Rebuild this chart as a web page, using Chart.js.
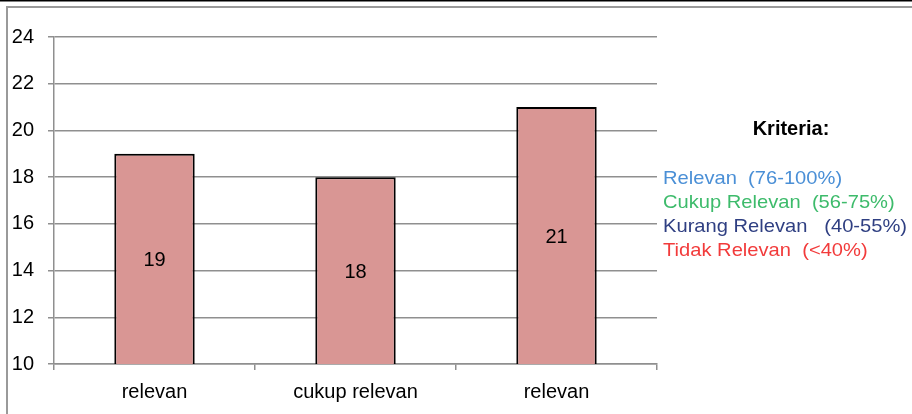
<!DOCTYPE html>
<html>
<head>
<meta charset="utf-8">
<script src="https://cdn.jsdelivr.net/npm/chart.js@4"></script>
<style>
  html, body { margin: 0; padding: 0; background: #fff; }
  #grafik { display: block; }
</style>
</head>
<body>
<canvas id="grafik" width="912" height="414"></canvas>
<script>
// Data
const kategori = ['relevan', 'cukup relevan', 'relevan'];
const nilai = [19, 18, 21];
const sumbuY = { min: 10, max: 24, langkah: 2 };

const judulKriteria = 'Kriteria:';
const kriteria = [
    { teks: 'Relevan  (76-100%)', warna: '#4a8fd6' },
    { teks: 'Cukup Relevan  (56-75%)', warna: '#3dbb6b' },
    { teks: 'Kurang Relevan   (40-55%)', warna: '#2f3f82' },
    { teks: 'Tidak Relevan  (<40%)', warna: '#f23b3b' }
];

const fontUtama = '"Liberation Sans", Arial, sans-serif';
const abu = '#8f8f8f';

// Bingkai luar
const bingkai = {
    id: 'bingkai',
    beforeDraw(chart) {
        const ctx = chart.ctx;
        ctx.save();
        ctx.fillStyle = '#000';
        ctx.fillRect(0, 0, chart.width, 1.5);
        ctx.strokeStyle = '#9a9a9a';
        ctx.lineWidth = 2;
        ctx.beginPath();
        ctx.moveTo(7, chart.height);
        ctx.lineTo(7, 7);
        ctx.lineTo(chart.width, 7);
        ctx.stroke();
        ctx.restore();
    }
};

// Angka di tengah batang (antara dasar sumbu dan puncak batang)
const labelNilai = {
    id: 'labelNilai',
    afterDatasetsDraw(chart) {
        const ctx = chart.ctx;
        const meta = chart.getDatasetMeta(0);
        const dasar = chart.scales.y.getPixelForValue(sumbuY.min);
        ctx.save();
        ctx.font = '20px ' + fontUtama;
        ctx.fillStyle = '#000';
        ctx.textAlign = 'center';
        ctx.textBaseline = 'middle';
        meta.data.forEach(function(bar, i) {
            ctx.fillText(String(nilai[i]), bar.x, (bar.y + dasar) / 2 + 2);
        });
        ctx.restore();
    }
};

// Keterangan kriteria di sebelah kanan
const keterangan = {
    id: 'keterangan',
    afterDraw(chart) {
        const ctx = chart.ctx;
        ctx.save();
        ctx.textBaseline = 'alphabetic';
        ctx.font = 'bold 20px ' + fontUtama;
        ctx.fillStyle = '#000';
        ctx.textAlign = 'center';
        ctx.fillText(judulKriteria, 791, 135);
        ctx.textAlign = 'left';
        ctx.font = '19px ' + fontUtama;
        kriteria.forEach(function(k, i) {
            ctx.fillStyle = k.warna;
            ctx.save();
            ctx.translate(663, 184 + i * 24);
            ctx.scale(1.06, 1);
            ctx.fillText(k.teks, 0, 0);
            ctx.restore();
        });
        ctx.restore();
    }
};

document.addEventListener('DOMContentLoaded', function() {
    const ctx = document.getElementById('grafik');
    new Chart(ctx, {
        type: 'bar',
        data: {
            labels: kategori,
            datasets: [{
                data: nilai,
                backgroundColor: '#d99694',
                borderColor: '#000',
                borderWidth: 2,
                borderSkipped: false,
                categoryPercentage: 1,
                barPercentage: 0.4
            }]
        },
        options: {
            responsive: false,
            devicePixelRatio: 1,
            animation: false,
            layout: { padding: { left: 0, top: 37, right: 255, bottom: 0 } },
            plugins: {
                legend: { display: false },
                tooltip: { enabled: false }
            },
            scales: {
                x: {
                    grid: {
                        offset: true,
                        drawOnChartArea: false,
                        color: abu,
                        lineWidth: 1.5,
                        tickLength: 6
                    },
                    border: { color: abu, width: 1.5 },
                    ticks: {
                        color: '#000',
                        font: { family: fontUtama, size: 20 },
                        padding: 10,
                        maxRotation: 0
                    },
                    afterFit(scale) { scale.height = 50; }
                },
                y: {
                    min: sumbuY.min,
                    max: sumbuY.max,
                    grid: { color: abu, lineWidth: 1.5, tickLength: 6 },
                    border: { color: abu, width: 1.5 },
                    ticks: {
                        stepSize: sumbuY.langkah,
                        color: '#000',
                        font: { family: fontUtama, size: 20 },
                        padding: 14
                    },
                    afterFit(scale) { scale.width = 54; }
                }
            }
        },
        plugins: [bingkai, labelNilai, keterangan]
    });
});
</script>
</body>
</html>
